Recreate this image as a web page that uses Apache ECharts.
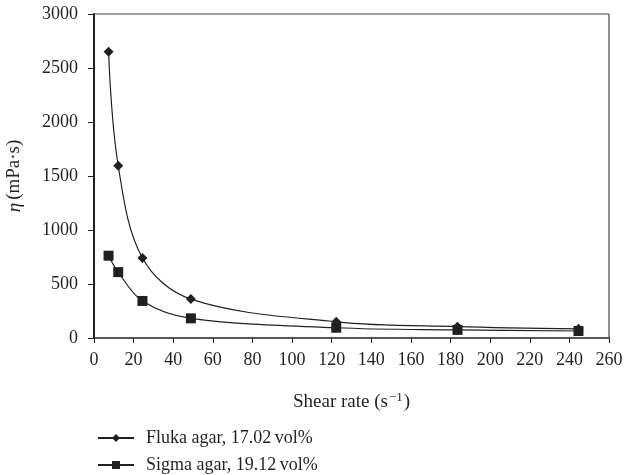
<!DOCTYPE html>
<html>
<head>
<meta charset="utf-8">
<script src="https://cdn.jsdelivr.net/npm/echarts@6/dist/echarts.min.js"></script>
<style>
	html, body { margin: 0; padding: 0; background: #fff; }
	#chart { width: 628px; height: 475px; }
</style>
</head>
<body>
<div id="chart"></div>
<script>
// shear rate (s^-1)
const shearRate = [7.34, 12.23, 24.46, 48.92, 122.3, 183.5, 244.6]
// viscosity (mPa·s)
const flukaEta = [2650, 1595, 740, 360, 150, 105, 85]
const sigmaEta = [762, 610, 343, 182, 95, 75, 65]
const seriesNames = ['Fluka agar, 17.02\u2009vol%', 'Sigma agar, 19.12\u2009vol%']
const xTicks = { min: 0, max: 260, interval: 20 }
const yTicks = { min: 0, max: 3000, interval: 500 }

const ink = '#231f20'
const serif = '"Liberation Serif", "DejaVu Serif", serif'

const pairs = (ys) => shearRate.map((x, i) => [x, ys[i]])

let myChart = echarts.init(document.getElementById('chart'))

// one legend per row so the rows stack like the original
const legendRow = (name, top) => ({
	orient: 'horizontal',
	left: 92,
	top: top,
	itemWidth: 36,
	itemHeight: 10,
	textStyle: { fontFamily: serif, fontSize: 18, color: ink, padding: [0, 0, 0, 7] },
	data: [name]
})

let option = {
	animation: false,
	textStyle: { fontFamily: serif, color: ink },
	grid: { left: 94, right: 19, top: 14, bottom: 137, containLabel: false, outerBoundsMode: 'none' },
	legend: [
		legendRow(seriesNames[0], 424),
		legendRow(seriesNames[1], 451)
	],
	xAxis: {
		type: 'value',
		min: xTicks.min,
		max: xTicks.max,
		interval: xTicks.interval,
		name: '{a|Shear rate (s}{sup|\u22121}{a|)}',
		nameLocation: 'middle',
		nameGap: 53,
		nameTextStyle: {
			rich: {
				a: { fontFamily: serif, fontSize: 19, color: ink },
				sup: { fontFamily: serif, fontSize: 13, color: ink, verticalAlign: 'top', padding: [0, 1, 9, 1] }
			}
		},
		axisLine: { show: true, lineStyle: { color: ink, width: 1.5 } },
		axisTick: { show: true, inside: false, length: 5, lineStyle: { color: ink } },
		axisLabel: { fontFamily: serif, fontSize: 18, color: ink, margin: 13 },
		splitLine: { show: false }
	},
	yAxis: {
		type: 'value',
		min: yTicks.min,
		max: yTicks.max,
		interval: yTicks.interval,
		name: '{i|\u03b7} {a|(mPa\u00b7s)}',
		nameLocation: 'middle',
		nameGap: 70,
		nameRotate: 90,
		nameTextStyle: {
			rich: {
				i: { fontFamily: serif, fontSize: 19, fontStyle: 'italic', color: ink },
				a: { fontFamily: serif, fontSize: 19, color: ink }
			}
		},
		axisLine: { show: true, lineStyle: { color: ink, width: 2 } },
		axisTick: { show: true, inside: false, length: 6, lineStyle: { color: ink } },
		axisLabel: { fontFamily: serif, fontSize: 18, color: ink, margin: 16, formatter: (v) => String(v) },
		splitLine: { show: false }
	},
	series: [
		{
			name: seriesNames[0],
			type: 'line',
			smooth: 0.35,
			data: pairs(flukaEta),
			symbol: 'diamond',
			symbolSize: 10,
			itemStyle: { color: ink },
			lineStyle: { color: ink, width: 1.2 }
		},
		{
			name: seriesNames[1],
			type: 'line',
			smooth: 0.35,
			data: pairs(sigmaEta),
			symbol: 'rect',
			symbolSize: 10,
			itemStyle: { color: ink },
			lineStyle: { color: ink, width: 1.2 }
		}
	]
}

myChart.setOption(option)

// frame: thin top and right borders
const tl = myChart.convertToPixel({ gridIndex: 0 }, [xTicks.min, yTicks.max])
const br = myChart.convertToPixel({ gridIndex: 0 }, [xTicks.max, yTicks.min])
myChart.setOption({
	graphic: [
		{ type: 'line', shape: { x1: tl[0], y1: tl[1], x2: br[0], y2: tl[1] }, style: { stroke: '#444', lineWidth: 1.2 }, z: 10 },
		{ type: 'line', shape: { x1: br[0], y1: tl[1], x2: br[0], y2: br[1] }, style: { stroke: '#444', lineWidth: 1.2 }, z: 10 }
	]
})
</script>
</body>
</html>
